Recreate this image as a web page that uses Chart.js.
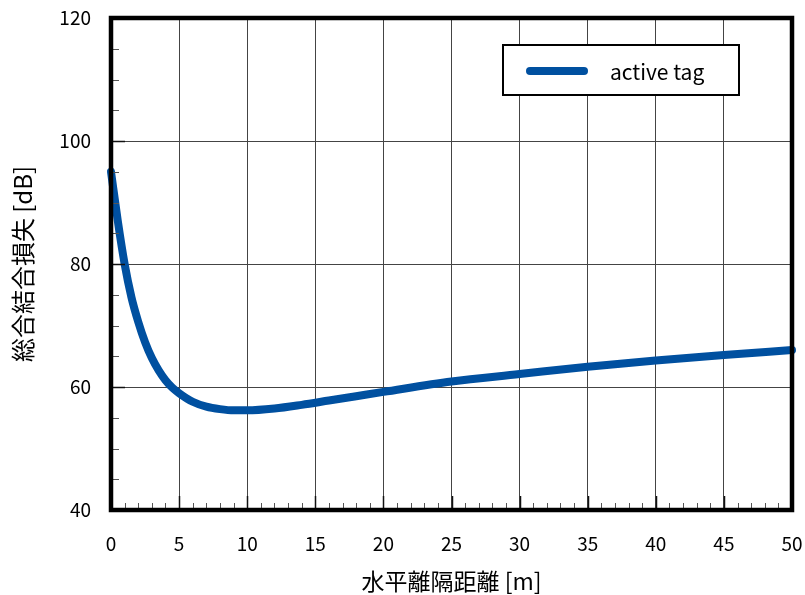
<!DOCTYPE html>
<html>
<head>
<meta charset="utf-8">
<script src="https://cdn.jsdelivr.net/npm/chart.js@4.4.1/dist/chart.umd.min.js"></script>
<style>
html,body{margin:0;padding:0;background:#fff;}
#wrap{width:805px;height:595px;}
</style>
</head>
<body>
<div id="wrap"><canvas id="c" width="805" height="595"></canvas></div>
<script>
const distances = [0, 0.5, 1, 1.5, 2, 2.5, 3, 3.5, 4, 4.5, 5, 6, 7, 8, 9, 10, 12, 14, 16, 18, 20, 25, 30, 35, 40, 45, 50];
const lossValues = [95, 87, 80, 74.6, 70.6, 67.3, 64.7, 62.7, 61.1, 59.9, 59.0, 57.6, 56.8, 56.4, 56.2, 56.2, 56.5, 57.1, 57.8, 58.5, 59.2, 60.9, 62.1, 63.3, 64.3, 65.2, 66.0];
const seriesLabel = 'active tag';
const xTitle = '水平離隔距離 [m]';
const yTitle = '総合結合損失 [dB]';
const xTicks = [0, 5, 10, 15, 20, 25, 30, 35, 40, 45, 50];
const yTicks = [40, 60, 80, 100, 120];

const FONT = '"Noto Sans CJK JP", "Noto Sans", sans-serif';
const LINE_COLOR = '#0050a0';

const framePlugin = {
  id: 'frame',
  afterDatasetsDraw(chart) {
    const ctx = chart.ctx;
    const a = chart.chartArea;
    const xs = chart.scales.x, ys = chart.scales.y;
    ctx.save();
    ctx.strokeStyle = '#555';
    ctx.lineWidth = 1;
    for (let v = 0; v <= 50; v += 1) {
      if (v % 5 === 0) continue;
      const px = Math.round(xs.getPixelForValue(v)) + 0.5;
      ctx.beginPath(); ctx.moveTo(px, a.bottom); ctx.lineTo(px, a.bottom - 7); ctx.stroke();
    }
    for (let v = 40; v <= 120; v += 5) {
      if (v % 20 === 0) continue;
      const py = Math.round(ys.getPixelForValue(v)) + 0.5;
      ctx.beginPath(); ctx.moveTo(a.left, py); ctx.lineTo(a.left + 8, py); ctx.stroke();
    }
    ctx.strokeStyle = '#111';
    ctx.lineWidth = 1.5;
    yTicks.forEach(v => {
      const py = Math.round(ys.getPixelForValue(v)) + 0.5;
      ctx.beginPath(); ctx.moveTo(a.left, py); ctx.lineTo(a.left + 14, py); ctx.stroke();
    });
    xTicks.forEach(v => {
      const px = Math.round(xs.getPixelForValue(v)) + 0.5;
      ctx.beginPath(); ctx.moveTo(px, a.bottom); ctx.lineTo(px, a.bottom - 14); ctx.stroke();
    });
    ctx.strokeStyle = '#000';
    ctx.lineWidth = 4.5;
    ctx.strokeRect(a.left, a.top, a.right - a.left, a.bottom - a.top);
    ctx.restore();
  },
  afterDraw(chart) {
    const ctx = chart.ctx;
    const ds = chart.data.datasets[0];
    ctx.save();
    ctx.fillStyle = '#fff';
    ctx.fillRect(503, 45, 236, 50);
    ctx.strokeStyle = '#000';
    ctx.lineWidth = 2;
    ctx.strokeRect(503, 45, 236, 50);
    ctx.strokeStyle = ds.borderColor;
    ctx.lineWidth = 8;
    ctx.lineCap = 'round';
    ctx.beginPath(); ctx.moveTo(530, 71); ctx.lineTo(584, 71); ctx.stroke();
    ctx.fillStyle = '#000';
    ctx.font = '21px ' + FONT;
    ctx.textAlign = 'left';
    ctx.textBaseline = 'middle';
    ctx.fillText(ds.label, 610, 72);
    ctx.restore();
  }
};

new Chart(document.getElementById('c'), {
  type: 'line',
  data: {
    datasets: [{
      label: seriesLabel,
      data: distances.map((x, i) => ({ x: x, y: lossValues[i] })),
      borderColor: LINE_COLOR,
      backgroundColor: LINE_COLOR,
      borderWidth: 8,
      pointRadius: 0,
      cubicInterpolationMode: 'monotone',
      borderCapStyle: 'round',
      borderJoinStyle: 'round',
      clip: 6
    }]
  },
  options: {
    responsive: false,
    animation: false,
    devicePixelRatio: 1,
    layout: { padding: { top: 18, right: 13, left: 0, bottom: 0 } },
    plugins: { legend: { display: false }, tooltip: { enabled: false } },
    scales: {
      x: {
        type: 'linear',
        min: 0, max: 50,
        afterBuildTicks(scale) { scale.ticks = xTicks.map(v => ({ value: v })); },
        afterFit(scale) { scale.height = 85; scale.paddingLeft = 0; scale.paddingRight = 0; },
        ticks: { color: '#000', font: { family: FONT, size: 19 }, padding: 22, maxRotation: 0 },
        grid: { color: '#444', lineWidth: 1, drawTicks: false },
        border: { display: false },
        title: { display: true, text: xTitle, color: '#000', font: { family: FONT, size: 23 }, padding: { top: 0, bottom: 0 } }
      },
      y: {
        type: 'linear',
        min: 40, max: 120,
        afterBuildTicks(scale) { scale.ticks = yTicks.map(v => ({ value: v })); },
        afterFit(scale) { scale.width = 111; scale.paddingTop = 0; scale.paddingBottom = 0; },
        ticks: { color: '#000', font: { family: FONT, size: 19 }, padding: 20 },
        grid: { color: '#444', lineWidth: 1, drawTicks: false },
        border: { display: false },
        title: { display: true, text: yTitle, color: '#000', font: { family: FONT, size: 24 }, padding: { top: 8, bottom: 0 } }
      }
    }
  },
  plugins: [framePlugin]
});
</script>
</body>
</html>
